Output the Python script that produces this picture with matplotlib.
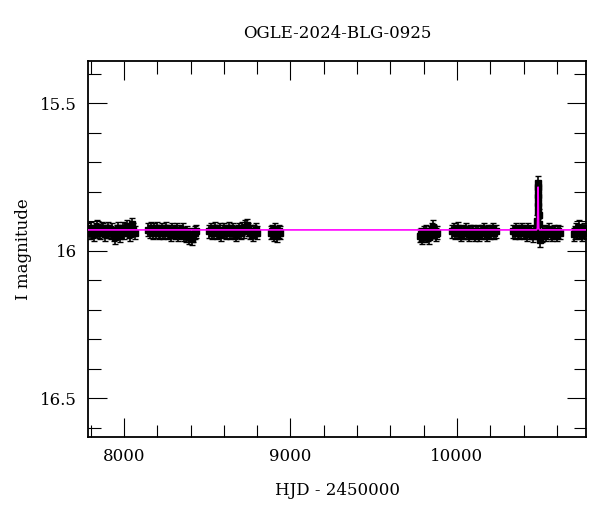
import numpy as np
import matplotlib.pyplot as plt

plt.rcParams['font.family'] = ['DejaVu Serif']

# photometry, season by season (HJD - 2450000, I mag)
t1 = [7786, 7795, 7804, 7813, 7822, 7831, 7840, 7849, 7858, 7867, 7876, 7885, 7894, 7903,
      7912, 7921, 7930, 7939, 7948, 7957, 7966, 7975, 7984, 7993, 8002, 8011, 8020, 8029,
      8038, 8047, 8056, 8065]
m1 = [15.93, 15.94, 15.925, 15.935, 15.945, 15.93, 15.92, 15.935, 15.94, 15.925, 15.93, 15.945,
      15.935, 15.925, 15.935, 15.94, 15.93, 15.945, 15.955, 15.935, 15.925, 15.95, 15.935, 15.925,
      15.94, 15.93, 15.92, 15.935, 15.945, 15.91, 15.93, 15.94]
t2 = [8146, 8155, 8164, 8173, 8182, 8191, 8200, 8209, 8218, 8227, 8236, 8245, 8254, 8263,
      8272, 8281, 8290, 8299, 8308, 8317, 8326, 8335, 8344, 8353, 8362, 8371, 8380, 8389,
      8398, 8407, 8416, 8425, 8434]
m2 = [15.93, 15.935, 15.925, 15.94, 15.93, 15.935, 15.925, 15.94, 15.935, 15.93, 15.94, 15.935,
      15.925, 15.94, 15.935, 15.945, 15.93, 15.935, 15.94, 15.93, 15.945, 15.935, 15.94, 15.93,
      15.945, 15.95, 15.94, 15.955, 15.945, 15.96, 15.95, 15.94, 15.935]
t3 = [8512, 8521, 8530, 8539, 8548, 8557, 8566, 8575, 8584, 8593, 8602, 8611, 8620, 8629,
      8638, 8647, 8656, 8665, 8674, 8683, 8692, 8701, 8710, 8719, 8728, 8737, 8746, 8755,
      8764, 8773, 8782, 8791, 8800]
m3 = [15.935, 15.93, 15.94, 15.935, 15.925, 15.94, 15.935, 15.93, 15.945, 15.935, 15.93, 15.94,
      15.935, 15.925, 15.94, 15.935, 15.93, 15.94, 15.945, 15.935, 15.93, 15.94, 15.925, 15.935,
      15.92, 15.915, 15.93, 15.94, 15.935, 15.945, 15.935, 15.93, 15.94]
t4 = [8882, 8890, 8898, 8906, 8914, 8922, 8930, 8938]
m4 = [15.94, 15.935, 15.945, 15.93, 15.94, 15.95, 15.935, 15.94]
t5 = [9776, 9784, 9792, 9800, 9808, 9816, 9824, 9832, 9840, 9848, 9856, 9864, 9872, 9880]
m5 = [15.95, 15.945, 15.955, 15.94, 15.95, 15.935, 15.945, 15.955, 15.94, 15.93, 15.92, 15.935,
      15.945, 15.94]
t6 = [9972, 9981, 9990, 9999, 10008, 10017, 10026, 10035, 10044, 10053, 10062, 10071, 10080,
      10089, 10098, 10107, 10116, 10125, 10134, 10143, 10152, 10161, 10170, 10179, 10188,
      10197, 10206, 10215, 10224, 10233]
m6 = [15.935, 15.93, 15.94, 15.935, 15.925, 15.94, 15.945, 15.935, 15.94, 15.93, 15.94, 15.945,
      15.935, 15.94, 15.935, 15.945, 15.94, 15.935, 15.945, 15.94, 15.935, 15.93, 15.94, 15.945,
      15.935, 15.94, 15.935, 15.93, 15.94, 15.935]
t7 = [10338, 10347, 10356, 10365, 10374, 10383, 10392, 10401, 10410, 10419, 10428, 10437,
      10446, 10455, 10464, 10473, 10479, 10482, 10484, 10485, 10486, 10486.5, 10487, 10487.5,
      10488, 10489, 10490, 10492, 10495, 10500, 10509, 10518, 10527, 10536, 10545, 10554,
      10563, 10572, 10581, 10590, 10599, 10608, 10616]
m7 = [15.935, 15.94, 15.93, 15.935, 15.94, 15.935, 15.93, 15.94, 15.935, 15.945, 15.93, 15.94,
      15.935, 15.95, 15.94, 15.935, 15.93, 15.9, 15.87, 15.84, 15.81, 15.785, 15.77, 15.79,
      15.82, 15.85, 15.88, 15.91, 15.94, 15.965, 15.95, 15.94, 15.935, 15.945, 15.94, 15.93,
      15.94, 15.945, 15.935, 15.94, 15.945, 15.935, 15.94]
t8 = [10700, 10708, 10716, 10724, 10732, 10740, 10748, 10756, 10764, 10772, 10780]
m8 = [15.945, 15.94, 15.93, 15.935, 15.92, 15.94, 15.945, 15.935, 15.93, 15.94, 15.935]

err = 0.022

# microlensing model
t_model = [7700, 10478, 10483, 10485, 10486, 10487, 10488, 10489, 10491, 10496, 10900]
m_model = [15.93, 15.93, 15.925, 15.88, 15.82, 15.785, 15.82, 15.88, 15.925, 15.93, 15.93]

fig = plt.figure(figsize=(6, 5.12), dpi=100)
ax = fig.add_axes([0.1467, 0.1465, 0.83, 0.734])

for t, m in [(t1, m1), (t2, m2), (t3, m3), (t4, m4), (t5, m5), (t6, m6), (t7, m7), (t8, m8)]:
    ax.errorbar(t, m, yerr=err, fmt='s', color='black', ms=5, elinewidth=1.2,
                capsize=2, capthick=1, zorder=2)

ax.plot(t_model, m_model, color='magenta', lw=1.2, zorder=3)

ax.set_xlim(7784, 10775)
ax.set_ylim(16.632, 15.358)
ax.set_xticks([8000, 9000, 10000])
ax.set_xticks(np.arange(7800, 10800, 200), minor=True)
ax.set_yticks([15.5, 16, 16.5])
ax.set_yticklabels(['15.5', '16', '16.5'])
ax.set_yticks(np.arange(15.4, 16.65, 0.1), minor=True)
ax.tick_params(which='both', direction='in', top=True, right=True, labelsize=12, pad=8)
ax.tick_params(which='major', length=14, width=0.8)
ax.tick_params(which='minor', length=9, width=0.8)
for s in ax.spines.values():
    s.set_linewidth(1.3)

ax.set_xlabel('HJD - 2450000', fontsize=12, labelpad=12)
ax.set_ylabel('I magnitude', fontsize=12, labelpad=6)
ax.set_title('OGLE-2024-BLG-0925', fontsize=12, pad=17)

fig.savefig('out.png', dpi=100)
